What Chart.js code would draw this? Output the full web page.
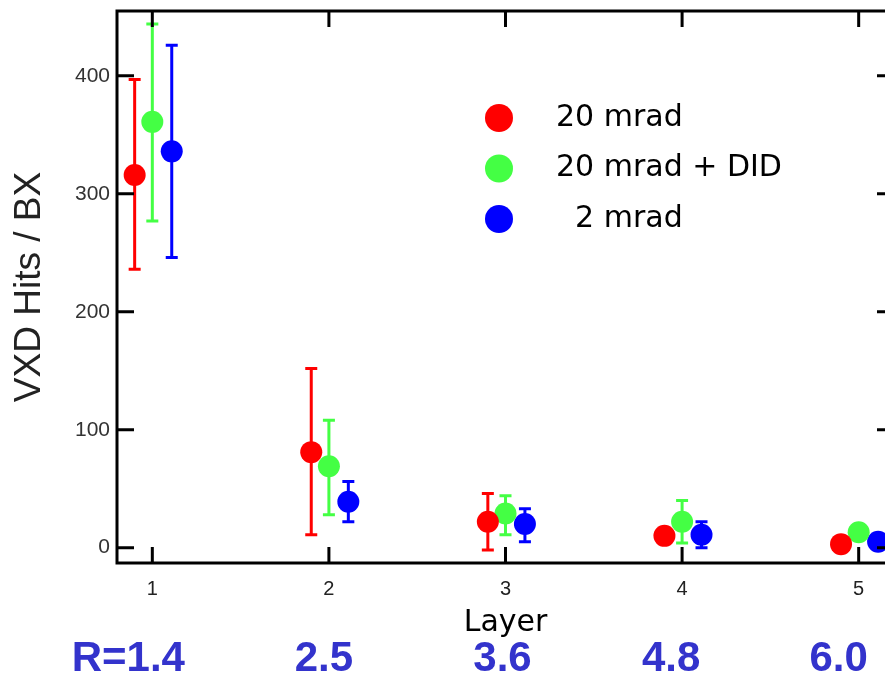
<!DOCTYPE html>
<html>
<head>
    <title>VXD Hits per BX</title>
    <style>
        html, body {
            margin: 0;
            padding: 0;
            background: #fff;
            overflow: hidden;
        }
        #chart-container {
            width: 905px;
            height: 678px;
        }
    </style>
</head>
<body>
    <script src="https://cdn.jsdelivr.net/npm/chart.js@4/dist/chart.umd.min.js"></script>
    <div id="chart-container">
        <canvas id="hitsChart" width="905" height="678"></canvas>
    </div>

    <script>
        // layer numbers and the radius labels under them
        const layers = [1, 2, 3, 4, 5];
        const radiusLabels = ['R=1.4', '2.5', '3.6', '4.8', '6.0'];
        const yTicks = [0, 100, 200, 300, 400];

        // 20 mrad
        const mrad20 = [316, 81, 22, 10, 3];
        const mrad20Hi = [397, 152, 46, 10, 3];
        const mrad20Lo = [236, 11, -2, 10, 3];
        // 20 mrad + DID
        const mrad20Did = [361, 69, 29, 22, 13];
        const mrad20DidHi = [444, 108, 44, 40, 13];
        const mrad20DidLo = [277, 28, 11, 4, 13];
        // 2 mrad
        const mrad2 = [336, 39, 20, 11, 5];
        const mrad2Hi = [426, 56, 33, 22, 5];
        const mrad2Lo = [246, 22, 5, 0, 5];

        function points(vals, shift) {
            return layers.map((l, i) => ({ x: l + shift, y: vals[i] }));
        }

        function series(label, color, vals, lo, hi, shift) {
            return {
                label: label,
                data: points(vals, shift),
                errLo: lo,
                errHi: hi,
                backgroundColor: color,
                borderColor: color,
                borderWidth: 0,
                pointRadius: 11,
                pointHoverRadius: 11,
                showLine: false
            };
        }

        // vertical error bars with caps, drawn under the markers
        const errorBars = {
            id: 'errorBars',
            beforeDatasetsDraw(chart) {
                const ctx = chart.ctx;
                const ys = chart.scales.y;
                chart.data.datasets.forEach(ds => {
                    ds.data.forEach((p, i) => {
                        const x = chart.scales.x.getPixelForValue(p.x);
                        const top = ys.getPixelForValue(ds.errHi[i]);
                        const bot = ys.getPixelForValue(ds.errLo[i]);
                        if (Math.abs(bot - top) < 1) return;
                        ctx.save();
                        ctx.strokeStyle = ds.borderColor;
                        ctx.lineWidth = 3;
                        ctx.beginPath();
                        ctx.moveTo(x, top); ctx.lineTo(x, bot);
                        ctx.moveTo(x - 6, top); ctx.lineTo(x + 6, top);
                        ctx.moveTo(x - 6, bot); ctx.lineTo(x + 6, bot);
                        ctx.stroke();
                        ctx.restore();
                    });
                });
            }
        };

        // box frame with inward ticks, legend and radius labels
        const decorations = {
            id: 'decorations',
            afterDraw(chart) {
                const ctx = chart.ctx;
                const a = chart.chartArea;
                const xs = chart.scales.x, ys = chart.scales.y;
                ctx.save();
                ctx.strokeStyle = '#000';
                ctx.lineWidth = 3;
                ctx.strokeRect(a.left, a.top, a.right - a.left, a.bottom - a.top);
                ctx.beginPath();
                yTicks.forEach(v => {
                    const y = ys.getPixelForValue(v);
                    ctx.moveTo(a.left, y); ctx.lineTo(a.left + 17, y);
                    ctx.moveTo(a.right, y); ctx.lineTo(a.right - 17, y);
                });
                layers.forEach(v => {
                    const x = xs.getPixelForValue(v);
                    ctx.moveTo(x, a.bottom); ctx.lineTo(x, a.bottom - 16);
                    ctx.moveTo(x, a.top); ctx.lineTo(x, a.top + 16);
                });
                ctx.stroke();

                // legend
                ctx.font = '30px "Comic Sans MS", "DejaVu Sans", sans-serif';
                ctx.textBaseline = 'middle';
                ctx.textAlign = 'left';
                chart.data.datasets.forEach((ds, i) => {
                    const y = 118 + i * 50.5;
                    ctx.fillStyle = ds.backgroundColor;
                    ctx.beginPath();
                    ctx.arc(499, y, 14, 0, Math.PI * 2);
                    ctx.fill();
                    ctx.fillStyle = '#000';
                    ctx.fillText(ds.label, 556, y);
                });

                // radius labels
                const nudge = [-24, -5, -3, -11, -20];
                ctx.font = 'bold 42px "Liberation Sans", Arial, sans-serif';
                ctx.fillStyle = '#3333cc';
                ctx.textAlign = 'center';
                radiusLabels.forEach((t, i) => {
                    ctx.fillText(t, xs.getPixelForValue(layers[i]) + nudge[i], 659);
                });
                ctx.restore();
            }
        };

        new Chart('hitsChart', {
            type: 'scatter',
            data: {
                datasets: [
                    series('20 mrad', '#ff0000', mrad20, mrad20Lo, mrad20Hi, -0.1),
                    series('20 mrad + DID', '#44ff44', mrad20Did, mrad20DidLo, mrad20DidHi, 0),
                    series('  2 mrad', '#0000ff', mrad2, mrad2Lo, mrad2Hi, 0.11)
                ]
            },
            options: {
                responsive: false,
                animation: false,
                layout: { padding: { left: 0, right: 11, top: 10, bottom: 0 } },
                plugins: {
                    legend: { display: false },
                    tooltip: { enabled: false }
                },
                scales: {
                    x: {
                        type: 'linear',
                        min: 0.8,
                        max: 5.2,
                        afterBuildTicks: s => { s.ticks = layers.map(v => ({ value: v })); },
                        afterFit: s => { s.height = 115; s.paddingLeft = 0; s.paddingRight = 0; },
                        grid: { display: false, drawTicks: false },
                        border: { display: false },
                        ticks: {
                            padding: 14,
                            color: '#222',
                            font: { family: '"Liberation Sans", Arial', size: 20 }
                        },
                        title: {
                            display: true,
                            text: 'Layer',
                            color: '#000',
                            padding: { top: 0, bottom: 37 },
                            font: { family: '"Comic Sans MS", "DejaVu Sans"', size: 30 }
                        }
                    },
                    y: {
                        min: -13,
                        max: 455,
                        afterBuildTicks: s => { s.ticks = yTicks.map(v => ({ value: v })); },
                        afterFit: s => { s.width = 117; s.paddingTop = 0; s.paddingBottom = 0; },
                        grid: { display: false, drawTicks: false },
                        border: { display: false },
                        ticks: {
                            padding: 7,
                            color: '#333',
                            font: { family: '"Liberation Sans", Arial', size: 21 }
                        },
                        title: {
                            display: true,
                            text: 'VXD Hits / BX',
                            color: '#222',
                            padding: { top: 8, bottom: 0 },
                            font: { family: '"Liberation Sans", Arial', size: 37 }
                        }
                    }
                }
            },
            plugins: [errorBars, decorations]
        });
    </script>
</body>
</html>
